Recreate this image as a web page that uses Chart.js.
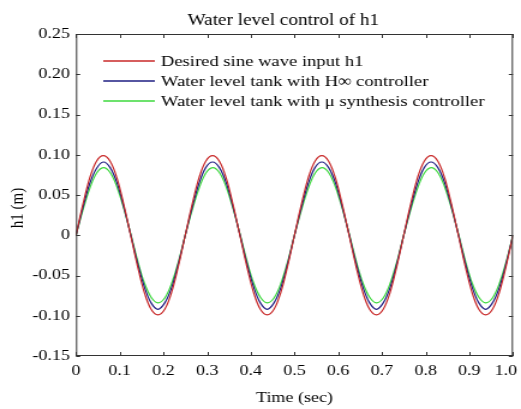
<!DOCTYPE html>
<html>
<head>
<meta charset="utf-8">
<script src="https://cdn.jsdelivr.net/npm/chart.js@4"></script>
<style>
  html, body { margin: 0; padding: 0; background: #fff; overflow: hidden; }
  #wrap { width: 434px; height: 409px; transform: scaleX(1.2005); transform-origin: 0 0; }
  canvas { display: block; }
</style>
</head>
<body>
<div id="wrap"><canvas id="c" width="434" height="409"></canvas></div>
<script>
const chartTitle = 'Water level control of h1';
const xAxisTitle = 'Time (sec)';
const yAxisTitle = 'h1 (m)';
const seriesNames = [
  'Desired sine wave input h1',
  'Water level tank with H\u221E controller',
  'Water level tank with \u03BC synthesis controller'
];
const seriesColors = ['#c82828', '#1e1e82', '#3cd83c'];

const xTicks = [0, 0.1, 0.2, 0.3, 0.4, 0.5, 0.6, 0.7, 0.8, 0.9, 1.0];
const xTickLabels = ['0', '0.1', '0.2', '0.3', '0.4', '0.5', '0.6', '0.7', '0.8', '0.9', '1.0'];
const yTicks = [-0.15, -0.10, -0.05, 0, 0.05, 0.10, 0.15, 0.20, 0.25];
const yTickLabels = ['-0.15', '-0.10', '-0.05', '0', '0.05', '0.10', '0.15', '0.20', '0.25'];

const time = [0, 0.0156, 0.0313, 0.0469, 0.0625, 0.0781, 0.0938, 0.1094, 0.125, 0.1406, 0.1563, 0.1719, 0.1875, 0.2031, 0.2188, 0.2344,
  0.25, 0.2656, 0.2813, 0.2969, 0.3125, 0.3281, 0.3438, 0.3594, 0.375, 0.3906, 0.4063, 0.4219, 0.4375, 0.4531, 0.4688, 0.4844,
  0.5, 0.5156, 0.5313, 0.5469, 0.5625, 0.5781, 0.5938, 0.6094, 0.625, 0.6406, 0.6563, 0.6719, 0.6875, 0.7031, 0.7188, 0.7344,
  0.75, 0.7656, 0.7813, 0.7969, 0.8125, 0.8281, 0.8438, 0.8594, 0.875, 0.8906, 0.9063, 0.9219, 0.9375, 0.9531, 0.9688, 0.9844, 1.0];

const desired = [0, 0.038, 0.071, 0.092, 0.099, 0.092, 0.071, 0.038, 0, -0.038, -0.071, -0.092, -0.099, -0.092, -0.071, -0.038,
  0, 0.038, 0.071, 0.092, 0.099, 0.092, 0.071, 0.038, 0, -0.038, -0.071, -0.092, -0.099, -0.092, -0.071, -0.038,
  0, 0.038, 0.071, 0.092, 0.099, 0.092, 0.071, 0.038, 0, -0.038, -0.071, -0.092, -0.099, -0.092, -0.071, -0.038,
  0, 0.038, 0.071, 0.092, 0.099, 0.092, 0.071, 0.038, 0, -0.038, -0.071, -0.092, -0.099, -0.092, -0.071, -0.038, 0];

const hinf = [0, 0.034, 0.064, 0.083, 0.091, 0.084, 0.065, 0.035, 0.001, -0.034, -0.064, -0.084, -0.092, -0.084, -0.065, -0.035,
  0, 0.034, 0.064, 0.084, 0.091, 0.084, 0.065, 0.035, 0.001, -0.034, -0.064, -0.084, -0.092, -0.084, -0.065, -0.035,
  0, 0.034, 0.064, 0.084, 0.091, 0.084, 0.065, 0.035, 0.001, -0.034, -0.064, -0.084, -0.092, -0.084, -0.065, -0.035,
  0, 0.034, 0.064, 0.084, 0.091, 0.084, 0.065, 0.035, 0.001, -0.034, -0.064, -0.084, -0.092, -0.084, -0.065, -0.035, 0];

const musyn = [0, 0.031, 0.058, 0.077, 0.084, 0.078, 0.060, 0.033, 0.002, -0.031, -0.059, -0.077, -0.084, -0.078, -0.060, -0.033,
  0, 0.031, 0.058, 0.077, 0.084, 0.078, 0.060, 0.033, 0.002, -0.031, -0.059, -0.077, -0.084, -0.078, -0.060, -0.033,
  0, 0.031, 0.058, 0.077, 0.084, 0.078, 0.060, 0.033, 0.002, -0.031, -0.059, -0.077, -0.084, -0.078, -0.060, -0.033,
  0, 0.031, 0.058, 0.077, 0.084, 0.078, 0.060, 0.033, 0.002, -0.031, -0.059, -0.077, -0.084, -0.078, -0.060, -0.033, 0];

const FONT = "'Liberation Serif', 'Times New Roman', serif";
const seriesData = [desired, hinf, musyn];

const datasets = seriesData.map((vals, i) => ({
  label: seriesNames[i],
  data: vals.map((v, k) => ({ x: time[k], y: v })),
  borderColor: seriesColors[i],
  borderWidth: 1.2,
  pointRadius: 0,
  tension: 0.35,
  fill: false
}));

const decor = {
  id: 'decor',
  beforeDraw(chart) {
    const xs = chart.scales.x;
    const items = xs.getLabelItems(chart.chartArea);
    if (items && items.length && !items._shifted) {
      items[items.length - 1].options.translation[0] -= 6;
      items._shifted = true;
    }
  },
  afterDraw(chart) {
    const ctx = chart.ctx;
    const a = chart.chartArea;
    const xs = chart.scales.x, ys = chart.scales.y;
    ctx.save();
    // border
    ctx.strokeStyle = '#333';
    ctx.lineWidth = 1;
    ctx.strokeRect(a.left + 0.5, a.top + 0.5, a.right - a.left - 1, a.bottom - a.top - 1);
    // inward ticks
    ctx.beginPath();
    xTicks.forEach(v => {
      const px = Math.round(xs.getPixelForValue(v)) + 0.5;
      ctx.moveTo(px, a.bottom); ctx.lineTo(px, a.bottom - 4);
      ctx.moveTo(px, a.top); ctx.lineTo(px, a.top + 4);
    });
    yTicks.forEach(v => {
      const py = Math.round(ys.getPixelForValue(v)) + 0.5;
      ctx.moveTo(a.left, py); ctx.lineTo(a.left + 3.5, py);
      ctx.moveTo(a.right, py); ctx.lineTo(a.right - 3.5, py);
    });
    ctx.stroke();
    // title
    ctx.fillStyle = '#000';
    ctx.font = '16px ' + FONT;
    ctx.textAlign = 'center';
    ctx.textBaseline = 'alphabetic';
    ctx.fillText(chartTitle, 236, 25);
    // y axis title
    ctx.save();
    ctx.translate(15, 208);
    ctx.rotate(-Math.PI / 2);
    ctx.font = '15px ' + FONT;
    ctx.textAlign = 'center';
    ctx.textBaseline = 'middle';
    ctx.fillText(yAxisTitle, 0, 0);
    ctx.restore();
    // legend
    ctx.font = '15.5px ' + FONT;
    ctx.textAlign = 'left';
    ctx.textBaseline = 'middle';
    chart.data.datasets.forEach((ds, i) => {
      const y = 61 + i * 20;
      ctx.strokeStyle = ds.borderColor;
      ctx.lineWidth = 1.3;
      ctx.beginPath();
      ctx.moveTo(86, y); ctx.lineTo(129, y);
      ctx.stroke();
      ctx.fillStyle = '#000';
      ctx.fillText(ds.label, 134, y + 1);
    });
    ctx.restore();
  }
};

new Chart(document.getElementById('c'), {
  type: 'line',
  data: { datasets },
  options: {
    responsive: false,
    animation: false,
    devicePixelRatio: 1,
    layout: { padding: { left: 0, right: 6.7, top: 34, bottom: 0 } },
    plugins: { legend: { display: false }, title: { display: false }, tooltip: { enabled: false } },
    scales: {
      x: {
        type: 'linear', min: 0, max: 1,
        grid: { display: false, drawTicks: false },
        border: { display: false },
        afterBuildTicks: s => { s.ticks = xTicks.map(v => ({ value: v })); },
        afterFit: s => { s.height = 53; s.paddingLeft = 0; s.paddingRight = 0; },
        ticks: {
          color: '#000', font: { family: FONT, size: 15 }, padding: 6, maxRotation: 0, autoSkip: false,
          callback: (v, i) => xTickLabels[i]
        },
        title: { display: true, text: xAxisTitle, color: '#000', font: { family: FONT, size: 15 }, padding: { top: 0, bottom: 2 } }
      },
      y: {
        type: 'linear', min: -0.15, max: 0.25,
        grid: { display: false, drawTicks: false },
        border: { display: false },
        afterBuildTicks: s => { s.ticks = yTicks.map(v => ({ value: v })); },
        afterFit: s => { s.width = 63.3; s.paddingTop = 0; s.paddingBottom = 0; },
        ticks: {
          color: '#000', font: { family: FONT, size: 15 }, padding: 5, autoSkip: false,
          callback: (v, i) => yTickLabels[i]
        },
        title: { display: false }
      }
    }
  },
  plugins: [decor]
});
</script>
</body>
</html>
